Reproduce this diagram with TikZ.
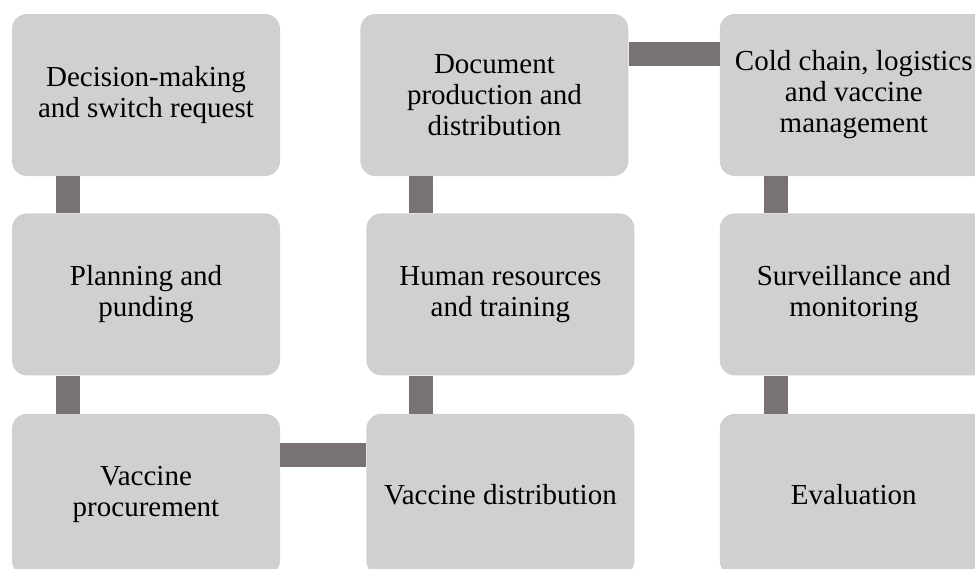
\documentclass[tikz,border=0pt]{standalone}
\usepackage{fontspec}
\setmainfont{Liberation Serif}
\usetikzlibrary{positioning}
\definecolor{boxgray}{RGB}{209,208,207}
\definecolor{linkgray}{RGB}{120,114,114}
\begin{document}
\begin{tikzpicture}[
    x=1pt, y=1pt,
    every node/.style={align=center},
    box/.style={fill=boxgray, rounded corners=15pt, inner sep=0pt,
      minimum width=268pt, minimum height=162pt,
      font=\fontsize{29}{31}\selectfont},
    link/.style={draw=linkgray, line width=24pt}
  ]
    \useasboundingbox (0,0) rectangle (975,-568);
    \node[box] (dec) at (146,-95)
      {Decision-making\\and switch request};
    \node[box, below=37pt of dec] (plan)
      {Planning and\\punding};
    \node[box, below=38pt of plan] (proc)
      {Vaccine\\procurement};
    \node[box, right=86pt of proc] (vdist)
      {Vaccine distribution};
    \node[box, above=38pt of vdist] (hum)
      {Human resources\\and training};
    \node[box, above=37pt of hum, xshift=-6pt] (doc)
      {Document\\production and\\distribution};
    \node[box, right=91pt of doc] (cold)
      {Cold chain, logistics\\and vaccine\\management};
    \node[box, below=37pt of cold] (surv)
      {Surveillance and\\monitoring};
    \node[box, below=38pt of surv] (eval)
      {Evaluation};
    \draw[link] ([xshift=56pt]dec.south west) -- ([xshift=56pt]plan.north west);
    \draw[link] ([xshift=56pt]plan.south west) -- ([xshift=56pt]proc.north west);
    \draw[link] ([yshift=-41pt]proc.north east) -- ([yshift=-41pt]vdist.north west);
    \draw[link] ([xshift=55pt]vdist.north west) -- ([xshift=55pt]hum.south west);
    \draw[link] ([xshift=55pt]hum.north west) -- ([xshift=55pt]hum.north west |- doc.south);
    \draw[link] ([yshift=-40pt]doc.north east) -- ([yshift=-40pt]cold.north west);
    \draw[link] ([xshift=56pt]cold.south west) -- ([xshift=56pt]surv.north west);
    \draw[link] ([xshift=56pt]surv.south west) -- ([xshift=56pt]eval.north west);
  \end{tikzpicture}
\end{document}
